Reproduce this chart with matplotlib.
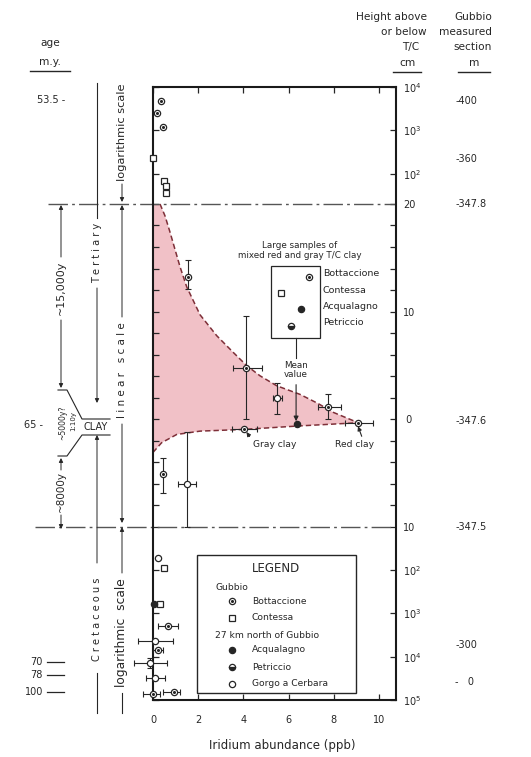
import numpy as np
import matplotlib
matplotlib.use("Agg")
import matplotlib.pyplot as plt
import matplotlib.transforms as mtransforms
from matplotlib.patches import Rectangle

plt.rcParams['font.family'] = ['DejaVu Sans']

# values
# x = iridium abundance (ppb), h = height above (+) or below (-) the T/C boundary in cm
bott_x = [0.34, 0.19, 0.46, 1.56, 4.10, 7.73, 9.08, 4.03, 0.46, 0.65, 0.23, 0.01, 0.94, 6.92]
bott_h = [4800, 2500, 1180, 13.2, 4.77, 1.14, -0.34, -0.96, -5.15, -1920, -7050, -72400, -64100, 13.2]
cont_x = [0.02, 0.49, 0.57, 0.57, 0.50, 0.30, 5.65]
cont_h = [230, 68, 53, 36, -90, -612, 11.75]
acq_x = [6.36, 0.06, 6.55]
acq_h = [-0.5, -612, 10.2]
petr_x = [6.09]
petr_h = [8.65]
gorgo_x = [5.47, 1.52, 0.23, 0.09, -0.13, 0.09]
gorgo_h = [1.98, -6.0, -52, -4270, -14000, -31300]

# vertical error bars: x, h, low end, high end
verr_x = [1.56, 4.10, 5.47, 7.73, 0.46, 1.52, -0.13]
verr_h = [13.2, 4.77, 1.98, 1.14, -5.15, -6.0, -14000]
verr_lo = [12.1, 0.0, 0.44, 0.0, -6.86, -10.0, -18000]
verr_hi = [14.8, 9.6, 3.38, 2.35, -3.66, -1.18, -10500]

# horizontal error bars: x, h, left end, right end
herr_x = [4.10, 5.47, 7.73, 9.08, 4.03, 1.52, 0.65, 0.09, 0.23, -0.13, 0.09, 0.01, 0.94]
herr_h = [4.77, 1.98, 1.14, -0.34, -0.96, -6.0, -1920, -4270, -7050, -14000, -31300, -72400, -64100]
herr_lo = [3.55, 5.30, 7.30, 8.50, 3.48, 1.12, 0.23, -0.68, 0.01, -0.83, -0.32, -0.43, 0.46]
herr_hi = [4.81, 5.69, 8.30, 9.75, 4.59, 1.90, 1.12, 0.90, 0.45, 0.60, 0.53, 0.31, 1.19]

# envelope of the clay layer (dashed curves)
upper_x = [0.0, 0.31, 0.53, 0.75, 0.97, 1.19, 1.49, 2.08, 2.82, 3.55, 4.15, 4.73, 5.47, 6.5, 7.3, 7.98, 9.08]
upper_h = [20, 20, 18.9, 17.4, 15.8, 14.2, 12.3, 9.7, 7.75, 6.2, 4.96, 4.03, 3.1, 2.3, 1.45, 0.62, -0.34]
lower_x = [0.0, 0.38, 1.05, 2.08, 4.03, 6.36, 9.08]
lower_h = [-3.1, -2.2, -1.43, -1.12, -0.96, -0.65, -0.34]

ytick_h = [1e4, 1e3, 1e2, 20, 18, 16, 14, 12, 10, 8, 6, 4, 2, 0,
           -2, -4, -6, -8, -10, -1e2, -1e3, -1e4, -1e5]
ytick_lab = ['$10^4$', '$10^3$', '$10^2$', '20', '', '', '', '', '10', '', '', '', '', ' 0',
             '', '', '', '', '10', '$10^2$', '$10^3$', '$10^4$', '$10^5$']
xticks = [0, 2, 4, 6, 8, 10]

section_lab = ['-400', '-360', '-347.8', '-347.6', '-347.5', '-300', '-   0']
section_h = [4700, 220, 20, -0.2, -10, -5500, -38000]

boundary_h = [20, -10]

ink = '#262626'
pink = '#f1c1c7'
red = '#7e2f38'

K = 4.03  # cm of linear axis per decade in the log parts


def fwd(h):
    h = np.asarray(h, dtype=float)
    a = np.log10(np.maximum(np.abs(h), 1e-9))
    return np.where(h > 20, 20 + K * (a - np.log10(20)),
                    np.where(h < -10, -10 - K * (a - 1), h))


def inv(u):
    u = np.asarray(u, dtype=float)
    with np.errstate(over='ignore'):
        return np.where(u > 20, 20 * 10 ** ((u - 20) / K),
                        np.where(u < -10, -10 * 10 ** ((-10 - u) / K), u))


styles = {
    'Bottaccione': dict(marker='o', mfc='white', mec=ink, ms=4.5, mew=0.9),
    'Contessa': dict(marker='s', mfc='white', mec=ink, ms=3.8, mew=0.9),
    'Acqualagno': dict(marker='o', mfc=ink, mec=ink, ms=4.5, mew=0.9),
    'Petriccio': dict(marker='o', mfc=ink, mfcalt='white', fillstyle='bottom', mec=ink, ms=4.5, mew=0.9),
    'Gorgo a Cerbara': dict(marker='o', mfc='white', mec=ink, ms=4.5, mew=0.9),
}


def mark(a, x, y, key, **kw):
    a.plot(x, y, ls='none', clip_on=False, zorder=5, **styles[key], **kw)
    if key == 'Bottaccione':
        a.plot(x, y, ls='none', marker='o', ms=1.2, color=ink, clip_on=False, zorder=6, **kw)


W, H = 531, 757
L, R, T, B = 153, 396, 87, 700
fig = plt.figure(figsize=(W / 100, H / 100), dpi=100)
ax = fig.add_axes([L / W, 1 - B / H, (R - L) / W, (B - T) / H])
ax.set_yscale('function', functions=(fwd, inv))
ax.set_ylim(-1e5, 1e4)
ax.set_xlim(0, 10.75)

# pink clay band between the dashed curves
ax.fill(upper_x + lower_x[::-1], upper_h + lower_h[::-1], color=pink, lw=0, zorder=1)
ax.plot(upper_x[1:], upper_h[1:], color=red, lw=1.1, dashes=(3.5, 2), zorder=2)
ax.plot(lower_x, lower_h, color=red, lw=1.1, dashes=(3.5, 2), zorder=2)

# boundary lines of the linear part, running out to the left margin
bt = mtransforms.blended_transform_factory(ax.transAxes, ax.transData)
for hb, x0 in zip(boundary_h, [-0.432, -0.486]):
    ax.plot([x0, 1], [hb, hb], transform=bt, clip_on=False, color='#555555',
            lw=1.0, dashes=(14, 3, 2, 3), zorder=2)

# error bars
vx, vh = np.array(verr_x), np.array(verr_h)
eb = ax.errorbar(vx, vh, yerr=[vh - np.array(verr_lo), np.array(verr_hi) - vh], fmt='none',
                 ecolor=ink, elinewidth=0.8, capsize=2, capthick=0.8, zorder=4)
hx, hh = np.array(herr_x), np.array(herr_h)
eb2 = ax.errorbar(hx, hh, xerr=[hx - np.array(herr_lo), np.array(herr_hi) - hx], fmt='none',
                  ecolor=ink, elinewidth=0.8, capsize=2, capthick=0.8, zorder=4)
for c in (eb, eb2):
    for art in c.get_children():
        art.set_clip_on(False)

mark(ax, bott_x, bott_h, 'Bottaccione')
mark(ax, cont_x, cont_h, 'Contessa')
mark(ax, acq_x, acq_h, 'Acqualagno')
mark(ax, petr_x, petr_h, 'Petriccio')
mark(ax, gorgo_x, gorgo_h, 'Gorgo a Cerbara')

# inset of large samples
ax.add_patch(Rectangle((5.21, 7.56), 7.39 - 5.21, 14.2 - 7.56, fill=False, ec=ink, lw=0.9, zorder=3))
ax.text(6.5, 15.65, 'Large samples of\nmixed red and gray T/C clay', ha='center', va='center',
        fontsize=6.3, color=ink, linespacing=1.2)
for lab, hy in zip(['Bottaccione', 'Contessa', 'Acqualagno', 'Petriccio'], [13.5, 12.0, 10.5, 8.96]):
    ax.text(7.52, hy, lab, ha='left', va='center', fontsize=6.8, color=ink)
ax.plot([6.33, 6.33], [7.56, 5.7], color=ink, lw=0.8)
ax.text(6.33, 4.55, 'Mean\nvalue', ha='center', va='center', fontsize=6.3, color=ink, linespacing=1.0)
ax.annotate('', xy=(6.33, -0.2), xytext=(6.33, 3.2),
            arrowprops=dict(arrowstyle='-|>', color=ink, lw=0.8, mutation_scale=7, shrinkA=0, shrinkB=0))
ax.annotate('Gray clay', xy=(4.1, -1.1), xytext=(4.42, -2.4), ha='left', va='center',
            fontsize=6.6, color=ink,
            arrowprops=dict(arrowstyle='-|>', color=ink, lw=0.8, mutation_scale=6,
                            shrinkA=1, shrinkB=1, relpos=(0.0, 0.9)))
ax.annotate('Red clay', xy=(9.05, -0.55), xytext=(8.92, -2.4), ha='center', va='center',
            fontsize=6.6, color=ink,
            arrowprops=dict(arrowstyle='-|>', color=ink, lw=0.8, mutation_scale=6,
                            shrinkA=1, shrinkB=1, relpos=(0.72, 1.0)))

# axes styling
for s in ax.spines.values():
    s.set_linewidth(1.5)
    s.set_color('#1a1a1a')
ax.set_yticks(ytick_h)
ax.set_yticklabels(ytick_lab)
ax.set_xticks(xticks)
ax.tick_params(axis='y', which='both', direction='in', left=True, right=True,
               labelleft=False, labelright=True, length=4, width=0.9, pad=5,
               labelsize=7, colors=ink)
ax.tick_params(axis='x', direction='in', top=True, bottom=True, length=4, width=0.9,
               pad=11, labelsize=7, colors=ink)
ax.yaxis.set_minor_locator(matplotlib.ticker.NullLocator())

# measured section column
for lab, hy in zip(section_lab, section_h):
    ax.text(1.243, hy, lab, transform=bt, ha='left', va='center', fontsize=7, color=ink)

# overlay in pixel coordinates for the margin annotations and legend
ov = fig.add_axes([0, 0, 1, 1])
ov.set_xlim(0, W)
ov.set_ylim(H, 0)
ov.axis('off')
ov.patch.set_visible(False)


def txt(x, y, s, **kw):
    kw.setdefault('fontsize', 7)
    kw.setdefault('color', ink)
    kw.setdefault('ha', 'center')
    kw.setdefault('va', 'center')
    ov.text(x, y, s, **kw)


def seg(x0, y0, x1, y1, lw=0.8):
    ov.plot([x0, x1], [y0, y1], color=ink, lw=lw)


def arr(x, y_from, y_to):
    ov.annotate('', xy=(x, y_to), xytext=(x, y_from),
                arrowprops=dict(arrowstyle='-|>', color=ink, lw=0.7, mutation_scale=6,
                                shrinkA=0, shrinkB=0))


txt(282, 746, 'Iridium abundance (ppb)', fontsize=8.5)

# right headers
txt(427, 17, 'Height above', ha='right', fontsize=7.6)
txt(427, 32, 'or below', ha='right', fontsize=7.6)
txt(411, 47, 'T/C', fontsize=7.6)
txt(408, 63, 'cm', fontsize=7.6)
seg(393, 72, 421, 72, lw=1.0)
txt(492, 17, 'Gubbio', ha='right', fontsize=7.6)
txt(492, 32, 'measured', ha='right', fontsize=7.6)
txt(492, 47, 'section', ha='right', fontsize=7.6)
txt(474, 63, 'm', fontsize=7.6)
seg(458, 72, 490, 72, lw=1.0)

# left headers and ages
txt(50, 43, 'age', fontsize=7.6)
txt(50, 62, 'm.y.', fontsize=7.6)
seg(30, 71, 70, 71, lw=1.0)
txt(65, 100, '53.5 -', ha='right', fontsize=7)
txt(43, 425, '65 -', ha='right', fontsize=7)
for lab, y in zip(['70', '78', '100'], [662, 675, 692]):
    txt(43, y, lab, ha='right', fontsize=7)
    seg(47, y, 64, y, lw=0.9)

# period column
seg(97, 83, 97, 218)
txt(97, 253, 'T e r t i a r y', rotation=90, fontsize=7)
arr(97, 288, 403)
arr(97, 563, 435)
txt(97, 619, 'C r e t a c e o u s', rotation=90, fontsize=7)
seg(97, 673, 97, 713)

# scale column
txt(122, 132, 'logarithmic scale', rotation=90, fontsize=8.2)
arr(122, 184, 202)
arr(122, 317, 205)
txt(122, 370, 'l i n e a r   s c a l e', rotation=90, fontsize=7.5)
arr(122, 424, 523)
arr(122, 573, 527)
txt(122, 633, 'logarithmic  scale', rotation=90, fontsize=8.8)
seg(122, 693, 122, 713)

# time column
arr(61, 257, 205)
txt(61, 288, '~15,000y', rotation=90, fontsize=8)
arr(61, 320, 388)
ov.plot([58, 67, 82, 110], [390, 390, 419, 419], color=ink, lw=0.8)
ov.plot([58, 67, 82, 110], [456, 456, 435, 435], color=ink, lw=0.8)
txt(63, 423, '~5000y?', rotation=90, fontsize=5.5)
txt(73, 421, '1:10y', rotation=90, fontsize=5)
txt(96, 427, 'CLAY', fontsize=7)
arr(61, 470, 458)
txt(61, 492, '~8000y', rotation=90, fontsize=7.5)
arr(61, 515, 529)

# legend box
ov.add_patch(Rectangle((197, 555), 159, 138, fill=False, ec=ink, lw=1.0))
txt(276, 568, 'LEGEND', fontsize=8.5)
txt(216, 587, 'Gubbio', ha='left', fontsize=6.6)
txt(215, 635, '27 km north of Gubbio', ha='left', fontsize=6.6)
for key, y in zip(['Bottaccione', 'Contessa', 'Acqualagno', 'Petriccio', 'Gorgo a Cerbara'],
                  [601, 618, 650, 667, 684]):
    mark(ov, [232], [y], key)
    txt(252, y, key, ha='left', fontsize=6.6)

fig.savefig('out.png', dpi=100)
